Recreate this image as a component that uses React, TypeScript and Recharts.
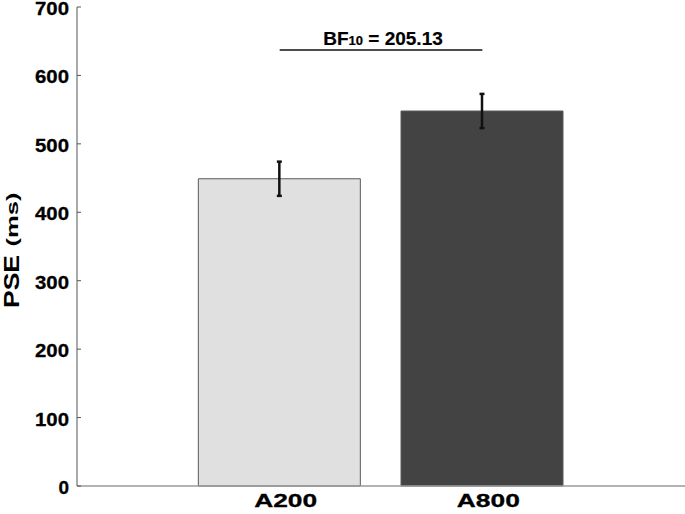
import React from "react";
import {
  Bar,
  BarChart,
  Cell,
  ErrorBar,
  ReferenceLine,
  XAxis,
  YAxis,
} from "recharts";

const conditions = ["A200", "A800"];
const pseMeans = [449, 548];
const pseErrors = [25, 25];
const yTicks = [0, 100, 200, 300, 400, 500, 600, 700];
const bfLevel = 637;
const bfText = { main: "BF", sub: "10", rest: " = 205.13" };

const fills = ["#e0e0e0", "#434343"];
const font = "'Liberation Sans', Arial, Helvetica, sans-serif";

const data = conditions.map((name, i) => ({
  pos: i + 1,
  name,
  value: pseMeans[i],
  err: pseErrors[i],
}));

const YTick = (props: any) => {
  const { x, y, payload } = props;
  return (
    <g>
      <text
        x={x}
        y={y}
        dy={8}
        textAnchor="end"
        fontFamily={font}
        fontWeight="bold"
        fontSize={19}
        textLength={payload.value === 0 ? undefined : 34}
        lengthAdjust="spacingAndGlyphs"
        fill="#000"
        stroke="#000"
        strokeWidth={0.3}
      >
        {payload.value}
      </text>
      <line x1={x + 8} x2={x + 12} y1={y} y2={y} stroke="#555" strokeWidth={1} />
    </g>
  );
};

const XTick = (props: any) => {
  const { x, y, payload } = props;
  const label = conditions[payload.value - 1];
  return (
    <text
      x={x + 6}
      y={y + 13}
      textAnchor="middle"
      fontFamily={font}
      fontWeight="bold"
      fontSize={19}
      textLength={63}
      lengthAdjust="spacingAndGlyphs"
      fill="#000"
      stroke="#000"
      strokeWidth={0.3}
    >
      {label}
    </text>
  );
};

const YLabel = (props: any) => {
  const { viewBox } = props;
  const cy = viewBox.y + viewBox.height / 2;
  const bx = 19;
  return (
    <g fontFamily={font} fontWeight="bold" fill="#000">
      <text
        x={bx}
        y={cy + 35}
        transform={`rotate(-90 ${bx} ${cy + 35})`}
        textAnchor="middle"
        fontSize={22}
        textLength={53}
        lengthAdjust="spacingAndGlyphs"
      >
        PSE
      </text>
      <text
        x={bx - 1}
        y={cy - 27}
        transform={`rotate(-90 ${bx - 1} ${cy - 27})`}
        textAnchor="middle"
        fontSize={16.5}
        textLength={54}
        lengthAdjust="spacingAndGlyphs"
      >
        (ms)
      </text>
    </g>
  );
};

const BFLabel = (props: any) => {
  const vb = props.viewBox || {};
  const x1 = vb.x1 !== undefined ? vb.x1 : vb.x;
  const x2 = vb.x2 !== undefined ? vb.x2 : vb.x + (vb.width || 0);
  const y = vb.y1 !== undefined ? vb.y1 : vb.y;
  return (
    <text
      x={(x1 + x2) / 2 + 2}
      y={y - 5}
      textAnchor="middle"
      fontFamily={font}
      fontWeight="bold"
      fontSize={19}
      fill="#000"
      stroke="#000"
      strokeWidth={0.2}
    >
      {bfText.main}
      <tspan fontSize={13}>{bfText.sub}</tspan>
      <tspan>{bfText.rest}</tspan>
    </text>
  );
};

export default function App() {
  return (
    <div style={{ position: "absolute", left: 0, top: 0, background: "#fff" }}>
      <BarChart
        width={685}
        height={514}
        data={data}
        margin={{ top: 7, right: 0, left: 0, bottom: 0 }}
      >
        <XAxis
          dataKey="pos"
          type="number"
          domain={[0, 3]}
          ticks={[1, 2]}
          height={28}
          tickLine={false}
          axisLine={{ stroke: "#9a9a9a", strokeWidth: 1.5 }}
          tick={<XTick />}
          interval={0}
        />
        <YAxis
          domain={[0, 700]}
          ticks={yTicks}
          width={77}
          tickLine={false}
          axisLine={{ stroke: "#555", strokeWidth: 1 }}
          tick={<YTick />}
          interval={0}
          label={<YLabel />}
        />
        <Bar dataKey="value" barSize={162} isAnimationActive={false}>
          {data.map((d, i) => (
            <Cell key={d.name} fill={fills[i]} stroke="#5a5a5a" strokeWidth={1} />
          ))}
          <ErrorBar
            dataKey="err"
            width={2.5}
            stroke="#111"
            strokeWidth={2.5}
            direction="y"
          />
        </Bar>
        <ReferenceLine
          segment={[
            { x: 1, y: bfLevel },
            { x: 2, y: bfLevel },
          ]}
          stroke="#111"
          strokeWidth={1.5}
          label={<BFLabel />}
        />
      </BarChart>
    </div>
  );
}
